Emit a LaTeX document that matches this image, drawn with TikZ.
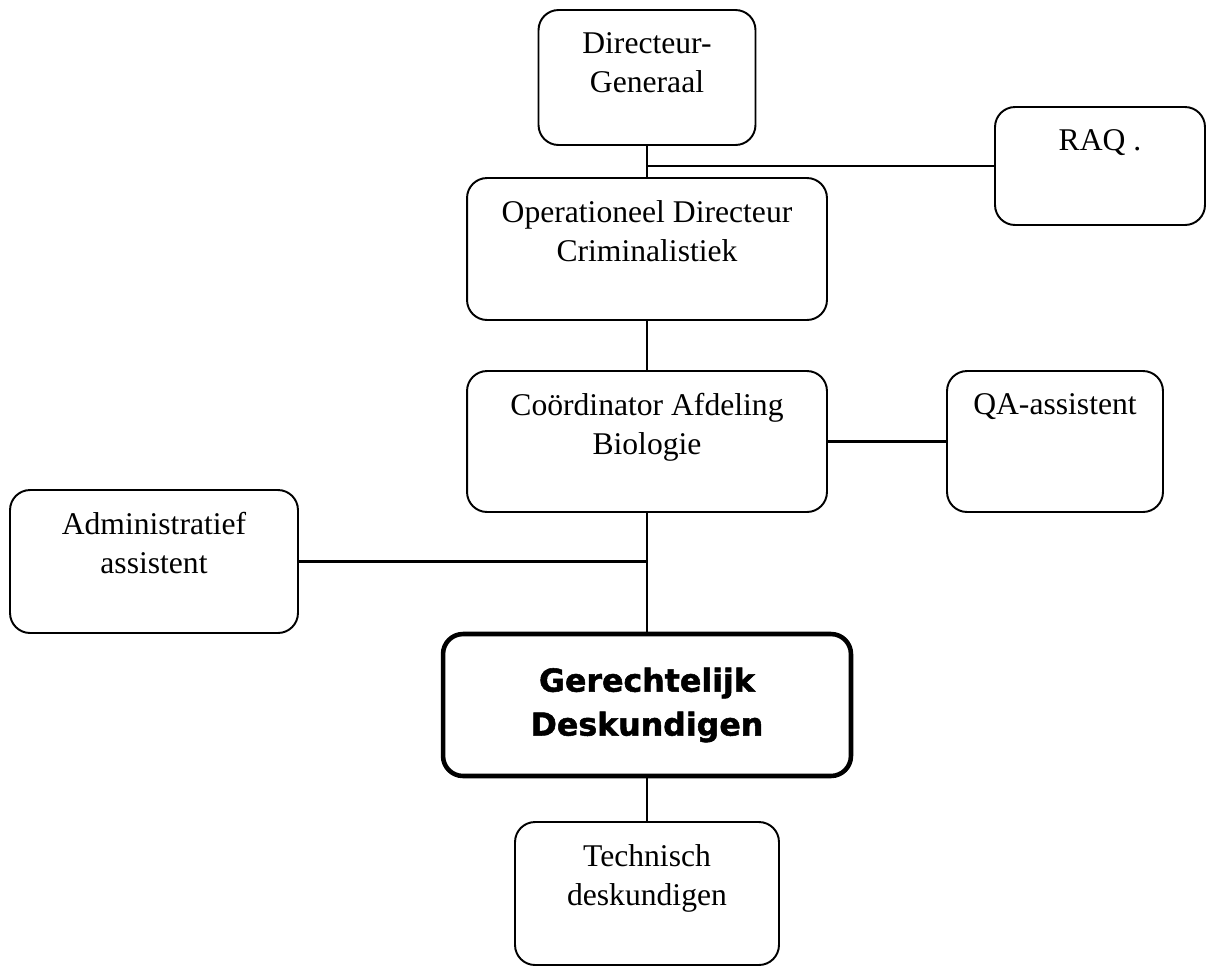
\documentclass[tikz,border=0pt]{standalone}
\usepackage{fontspec}
\setmainfont{Liberation Serif}
\newfontfamily\boldsans[FakeBold=1.6]{DejaVu Sans Bold}
\usetikzlibrary{positioning}
% text pinned to the top of a fixed-size box
\newcommand{\toptext}[3]{\parbox[c][#2][t]{#1}{\centering\vspace*{0.45cm}#3}}

\begin{document}
\begin{tikzpicture}[x=0.02cm, y=-0.02cm,
	orgbox/.style={draw, line width=1.1pt, rounded corners=0.4cm,
		inner sep=0pt, font=\fontsize{18}{22}\selectfont},
	keybox/.style={orgbox, line width=2.6pt, align=center,
		minimum width=8.16cm, minimum height=2.84cm,
		font=\fontsize{18}{25}\boldsans},
	link/.style={line width=1.2pt}
]
\useasboundingbox (0,0) rectangle (1207,968);

\node[orgbox] (dg) at (647,77.5) {\toptext{4.34cm}{2.7cm}{Directeur-\\Generaal}};
\node[orgbox] (raq) at (1100,166) {\toptext{4.2cm}{2.36cm}{RAQ .}};
\node[orgbox] (odc) at (647,249) {\toptext{7.2cm}{2.84cm}{Operationeel Directeur\\Criminalistiek}};
\node[orgbox] (cab) at (647,441.5) {\toptext{7.2cm}{2.82cm}{Co\"ordinator Afdeling\\Biologie}};
\node[orgbox] (qa) at (1055,441.5) {\toptext{4.32cm}{2.82cm}{QA-assistent}};
\node[orgbox] (adm) at (154,561.5) {\toptext{5.76cm}{2.86cm}{Administratief\\assistent}};
\node[keybox] (gd) at (647,705) {Gerechtelijk\\Deskundigen};
\node[orgbox] (tech) at (647,893.5) {\toptext{5.28cm}{2.86cm}{Technisch\\deskundigen}};

% connectors
\draw[link] (dg.south) -- (odc.north);
\draw[link] (raq.west) -- (raq.west -| dg.south);
\draw[link] (odc.south) -- (cab.north);
\draw[link] (cab.east) -- (qa.west);
\draw[link] (cab.south) -- (gd.north);
\draw[link] (adm.east) -- (adm.east -| cab.south);
\draw[link] (gd.south) -- (tech.north);
\end{tikzpicture}
\end{document}
